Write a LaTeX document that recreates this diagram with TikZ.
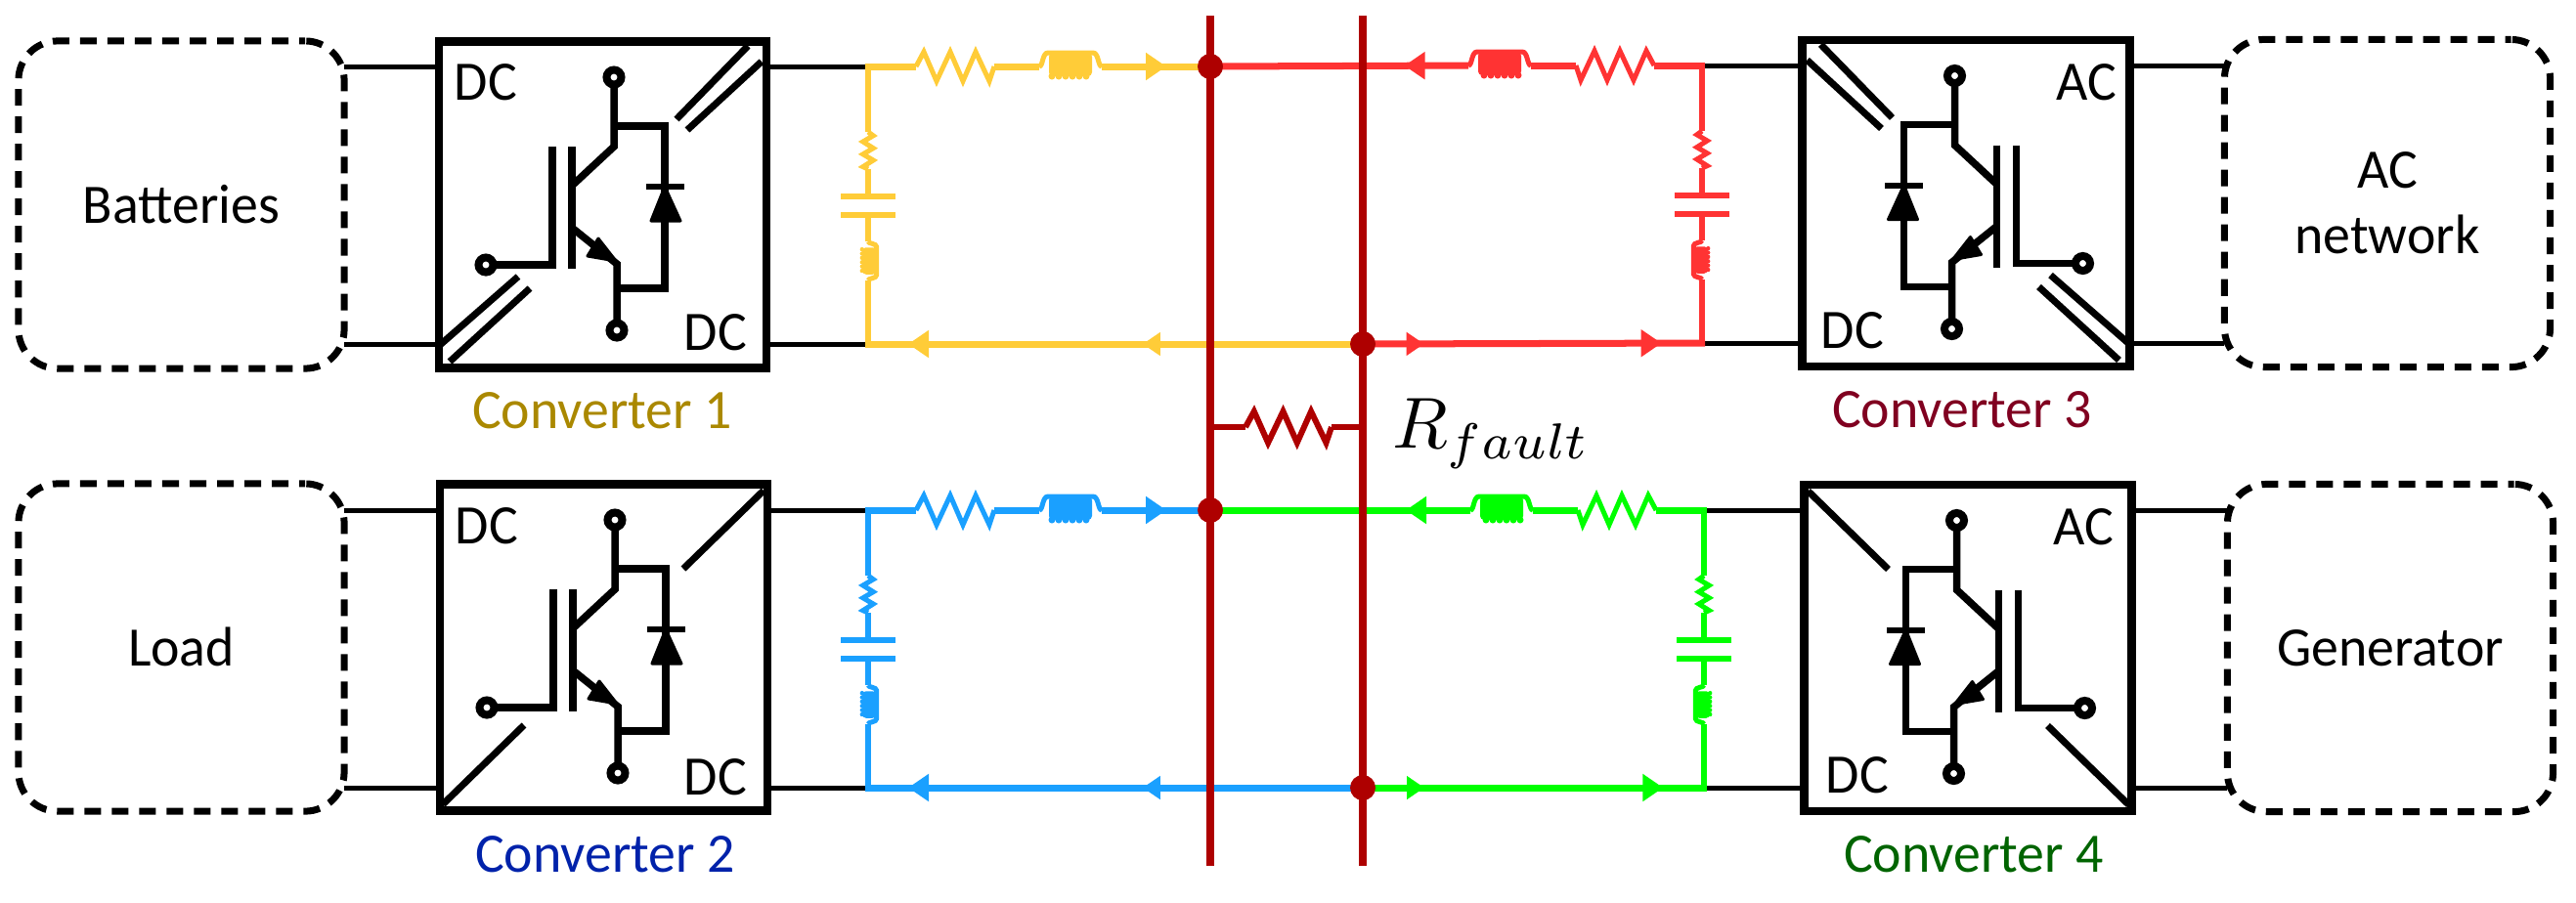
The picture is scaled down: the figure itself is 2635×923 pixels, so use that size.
\documentclass[tikz,border=0pt]{standalone}
\usepackage{fontspec}
\setmainfont[FakeStretch=0.98]{Carlito}
\usetikzlibrary{arrows.meta,decorations.markings}
\definecolor{cyel}{HTML}{FFCC38}
\definecolor{cred}{HTML}{FF3333}
\definecolor{cblu}{HTML}{1AA0FF}
\definecolor{cgrn}{HTML}{00FF00}
\definecolor{cbus}{HTML}{AE0000}
\definecolor{lyel}{HTML}{AA8800}
\definecolor{lred}{HTML}{800020}
\definecolor{lblu}{HTML}{0022AA}
\definecolor{lgrn}{HTML}{006400}
\newcommand{\txtfont}{\fontsize{16.2}{19}\selectfont}
\tikzset{
  wire/.style={draw=black, line width=.05cm},
  hbus/.style={line width=.07cm},
  vbus/.style={line width=.06cm},
  plate/.style={line width=.065cm},
  bus/.style={draw=cbus, line width=.085cm},
  dot/.style={circle, fill=cbus, minimum size=.26cm, inner sep=0pt},
  srcbox/.style={draw=black, line width=.07cm, dash pattern=on .17cm off .11cm, dash phase=.11cm,
    rounded corners=.4cm, minimum width=3.33cm, minimum height=3.35cm, outer sep=0pt, align=center, font=\txtfont},
  oneline/.style={text height=.37cm, text depth=0pt},
  convbox/.style={draw=black, line width=.085cm, minimum width=3.345cm, minimum height=3.34cm, outer sep=0pt},
  lbl/.style={anchor=base, font=\txtfont, inner sep=0pt},
  tipbig/.style={postaction={decorate, decoration={markings, mark=at position #1 with
    {\arrow{Triangle[length=.21cm, width=.27cm]}}}}},
  tipsmall/.style={postaction={decorate, decoration={markings, mark=at position #1 with
    {\arrow{Triangle[length=.18cm, width=.23cm]}}}}},
  pics/res/.style={code={
    \draw (0,0) -- (8,-15) -- (21,15) -- (35,-15) -- (48,15) -- (61,-15) -- (75,15) -- (80,0);
  }},
  pics/ind/.style={code={
    \draw (0,0) .. controls (4,0) and (3,-14) .. (9,-14) -- (55,-14) .. controls (61,-14) and (60,0) .. (64,0);
    \fill[rounded corners=.04cm] (10,-14) rectangle (54,10);
    \foreach \i in {13,20,...,51} \fill (\i,10) circle (.035cm);
  }},
  pics/rlc/.style={code={
    \draw[hbus] (-3,0) -- (49,0);
    \pic[transform shape] at (49,0) {res};
    \draw[hbus] (129,0) -- (175,0);
    \pic[transform shape] at (175,0) {ind};
    \draw[vbus] (0,0) -- (0,67);
    \pic[transform shape, rotate=-90, xscale=.475, yscale=.35] at (0,67) {res};
    \draw[vbus] (0,105) -- (0,133);
    \draw[plate] (-28,133) -- (28,133);
    \draw[plate] (-28,152) -- (28,152);
    \draw[vbus] (0,152) -- (0,179);
    \pic[transform shape, rotate=-90, xscale=.625, yscale=.62] at (0,179) {ind};
    \draw[vbus] (0,219) -- (0,284);
  }},
  pics/igbt/.style={code={
    \begin{scope}[line width=.075cm]
      \draw (11.5,-122) -- (11.5,-59.5) -- (-31.5,-19.5);
      \draw (-31.5,-59.5) -- (-31.5,65.5);
      \draw (-51.5,-59.5) -- (-51.5,61.5) -- (-111.5,61.5);
      \draw (-31.5,23.5) -- (14.5,60.5) -- (14.5,120);
      \draw (11.5,-80.5) -- (63.5,-80.5) -- (63.5,85.5) -- (14.5,85.5);
      \draw[line width=.08cm] (11.5,-130.5) circle (.075cm);
      \draw[line width=.08cm] (14.5,128.5) circle (.075cm);
      \draw[line width=.08cm] (-119.5,61.5) circle (.075cm);
      \draw[line width=.06cm] (44.5,-18.5) -- (83.5,-18.5);
    \end{scope}
    \filldraw[line width=.03cm, line join=round] (-4.5,34.5) -- (-15.5,52.5) -- (13.5,57.5) -- cycle;
    \filldraw[line width=.03cm, line join=round] (63.5,-18.5) -- (49.5,16.5) -- (79.5,16.5) -- cycle;
  }},
  pics/diagtwo/.style={code={
    \begin{scope}[line width=.07cm]
      \draw (148.5,-162.5) -- (75.5,-87.5);
      \draw (162.5,-146.5) -- (86.5,-76.5);
      \draw (-166.5,143.5) -- (-86.5,73.5);
      \draw (-156.5,160.5) -- (-74.5,85.5);
    \end{scope}
  }},
  pics/diagone/.style={code={
    \begin{scope}[line width=.07cm]
      \draw (163.5,-160.5) -- (81.5,-80.5);
      \draw (-164.5,160.5) -- (-81.5,79.5);
    \end{scope}
  }},
}
\begin{document}
\begin{tikzpicture}[x=.01cm, y=-.01cm]
  \useasboundingbox (0,0) rectangle (2635,923);

  % sources and loads
  \node[srcbox, oneline] (batt) at (185.5,209.5) {Batteries};
  \node[srcbox, oneline] (load) at (185.5,662.5) {Load};
  \node[srcbox] (acnet) at (2442,208) {AC\\network};
  \node[srcbox, oneline] (gen) at (2445,663) {Generator};

  % converters
  \node[convbox] (conv1) at (616.5,209.5) {};
  \node[convbox] (conv2) at (617.5,662.5) {};
  \node[convbox] (conv3) at (2011,208) {};
  \node[convbox] (conv4) at (2013,663) {};
  \pic at (conv1) {igbt};
  \pic at (conv1) {diagtwo};
  \pic at (conv2) {igbt};
  \pic at (conv2) {diagone};
  \pic[xscale=-1] at (conv3) {igbt};
  \pic[xscale=-1] at (conv3) {diagtwo};
  \pic[xscale=-1] at (conv4) {igbt};
  \pic[xscale=-1] at (conv4) {diagone};

  \node[lbl] (dc1a) at (497,102) {DC};
  \node[lbl] (dc1b) at (732,358) {DC};
  \node[lbl] (dc2a) at (498,556) {DC};
  \node[lbl] (dc2b) at (732,813) {DC};
  \node[lbl] (ac3) at (2134,102) {AC};
  \node[lbl] (dc3) at (1895,356) {DC};
  \node[lbl] (ac4) at (2131,557) {AC};
  \node[lbl] (dc4) at (1900,811) {DC};
  \node[lbl, lyel] (name1) at (616,438) {Converter 1};
  \node[lbl, lblu] (name2) at (619,892) {Converter 2};
  \node[lbl, lred] (name3) at (2007,437) {Converter 3};
  \node[lbl, lgrn] (name4) at (2019,892) {Converter 4};

  % corners of the filters and junctions
  \coordinate (lt1) at (888,68);
  \coordinate (lb1) at (888,352);
  \coordinate (rt1) at (1741,67);
  \coordinate (rb1) at (1741,351);
  \coordinate (lt2) at (888,522);
  \coordinate (lb2) at (888,806);
  \coordinate (rt2) at (1743,522);
  \coordinate (rb2) at (1743,806);
  \coordinate (jt1) at (1238,68);
  \coordinate (jb1) at (1394,352);
  \coordinate (jt2) at (1238,522);
  \coordinate (jb2) at (1394,806);

  % black wires
  \foreach \src/\dst/\n/\e in {batt/conv1/lt1/lb1, load/conv2/lt2/lb2} {
    \draw[wire] (\src.east |- \n) -- (\dst.west |- \n);
    \draw[wire] (\src.east |- \e) -- (\dst.west |- \e);
    \draw[wire] (\dst.east |- \n) -- (\n);
    \draw[wire] (\dst.east |- \e) -- (\e);
  }
  \foreach \src/\dst/\n/\e in {acnet/conv3/rt1/rb1, gen/conv4/rt2/rb2} {
    \draw[wire] (\src.west |- \n) -- (\dst.east |- \n);
    \draw[wire] (\src.west |- \e) -- (\dst.east |- \e);
    \draw[wire] (\dst.west |- \n) -- (\n);
    \draw[wire] (\dst.west |- \e) -- (\e);
  }

  % filters, left side
  \foreach \cl/\n in {cyel/1, cblu/2} {
    \begin{scope}[color=\cl, line width=.05cm]
      \pic at (lt\n) {rlc};
      \draw[hbus, tipbig=.595] (lt\n) ++(239,0) -- (jt\n);
      \draw[hbus, tipbig=.913, tipsmall=.439] ([xshift=-.03cm]jb\n) -- ([xshift=-.03cm]lb\n);
    \end{scope}
  }
  % filters, right side
  \foreach \cl/\n in {cred/1, cgrn/2} {
    \begin{scope}[color=\cl, line width=.05cm]
      \pic[xscale=-1] at (rt\n) {rlc};
      \draw[hbus, tipbig=.248] (rt\n) ++(-239,0) -- (jt\n);
      \draw[hbus, tipsmall=.179, tipbig=.873] (jb\n) -- ([xshift=.03cm]rb\n);
    \end{scope}
  }

  % fault lines
  \coordinate (bus1a) at (1238,16);
  \coordinate (bus1b) at (1238,886);
  \coordinate (bus2a) at (1394,16);
  \coordinate (bus2b) at (1394,886);
  \coordinate (fa) at (1238,437);
  \coordinate (fb) at (1394,437);
  \draw[bus] (bus1a) -- (bus1b);
  \draw[bus] (bus2a) -- (bus2b);
  \begin{scope}[color=cbus, line width=.06cm]
    \draw (fa) -- (1274,437);
    \pic[xscale=1.1, yscale=1.07] at (1274,437) {res};
    \draw (1362,437) -- (fb);
  \end{scope}
  \foreach \n in {jt1, jb1, jt2, jb2} \node[dot] (d\n) at (\n) {};
  \node[scale=2.1, anchor=base west, inner sep=0pt] (rfault) at (1423,458) {$R_{fault}$};
\end{tikzpicture}
\end{document}
